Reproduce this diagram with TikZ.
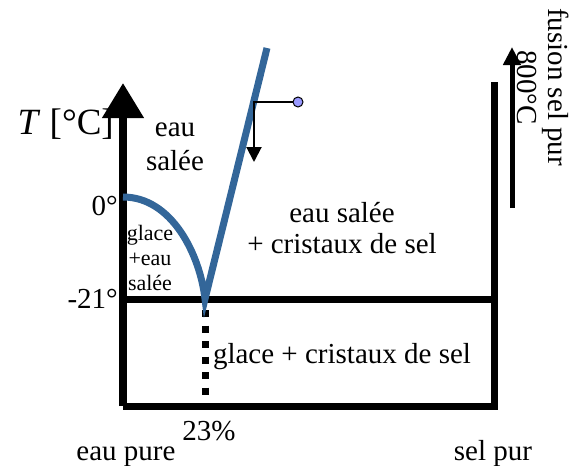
\documentclass[tikz,border=0pt]{standalone}
\usepackage{fontspec}
\setmainfont{Liberation Serif}
\usetikzlibrary{arrows.meta}
\definecolor{liquidus}{HTML}{336699}
\definecolor{pointer}{HTML}{9999FF}

\begin{document}
\begin{tikzpicture}[x=1pt, y=-1pt, every node/.style={font=\fontsize{29}{34}\selectfont, inner sep=0pt},
    axis/.style={line width=7.5pt},
    curve/.style={liquidus, line width=7pt}]
    \useasboundingbox (0,0) rectangle (582,466);
    % corners of the diagram
    \coordinate (origin) at (123,406);
    \coordinate (top) at (123,83);
    \coordinate (corner) at (494,406);
    \coordinate (right) at (494,82);
    \coordinate (eutL) at (123,299);
    \coordinate (eutR) at (494,299);
    \coordinate (eut) at (205,299);
    \coordinate (eutB) at (205,406);
    \coordinate (melt) at (123,197);
    \coordinate (liqtop) at (267,48);
    % frame
    \draw[axis, -{Triangle[length=35pt, width=40pt]}] (origin) -- (top);
    \draw[line width=7pt, line join=miter] (origin) -- (corner) -- (right);
    \draw[line width=7pt] (eutL) -- (eutR);
    \draw[line width=7pt, dash pattern=on 7pt off 8.5pt] ([yshift=4.5pt]eut) -- (eutB);
    % liquidus
    \draw[curve] (melt) .. controls (172,197) and (200,255) .. (eut) -- (liqtop);
    % pointer
    \node[circle, draw, fill=pointer, minimum size=10pt, line width=1pt] (dot) at (298,102) {};
    \coordinate (bend) at (254,102);
    \coordinate (pdown) at (254,162);
    \draw[line width=2pt, -{Triangle[length=15pt, width=15pt]}] (dot) -- (bend) -- (pdown);
    % sel pur melting
    \coordinate (mlow) at (512,208);
    \coordinate (mhigh) at (512,47);
    \draw[line width=5pt, -{Triangle[length=18pt, width=17pt]}] (mlow) -- (mhigh);
    \node[rotate=-90, anchor=north west] (mtemp) at (537,50) {800°C};
    \node[rotate=-90, anchor=north west] (mlabel) at (569,8) {fusion sel pur};
    % labels
    \node[anchor=base east, font=\fontsize{37}{40}\selectfont] (tlabel) at (114,134) {\textit{T} [°C]};
    \node[anchor=base east] (zero) at (118,215) {0°};
    \node[anchor=base east] (minus) at (118,308) {-21°};
    \node[align=center, anchor=base] (liquid) at (175,170) {eau\\salée};
    \node[align=center, anchor=base, font=\fontsize{22}{25}\selectfont] (mixL) at (150,290) {glace\\+eau\\salée};
    \node[align=center, anchor=base, font=\fontsize{29}{31}\selectfont] (mixR) at (342,253) {eau salée\\+ cristaux de sel};
    \node[anchor=base] (solid) at (342,363) {glace + cristaux de sel};
    \node[anchor=base] (conc) at (209,440) {23\%};
    \node[anchor=base] (pure) at (126,460) {eau pure};
    \node[anchor=base] (salt) at (493,460) {sel pur};
\end{tikzpicture}
\end{document}
